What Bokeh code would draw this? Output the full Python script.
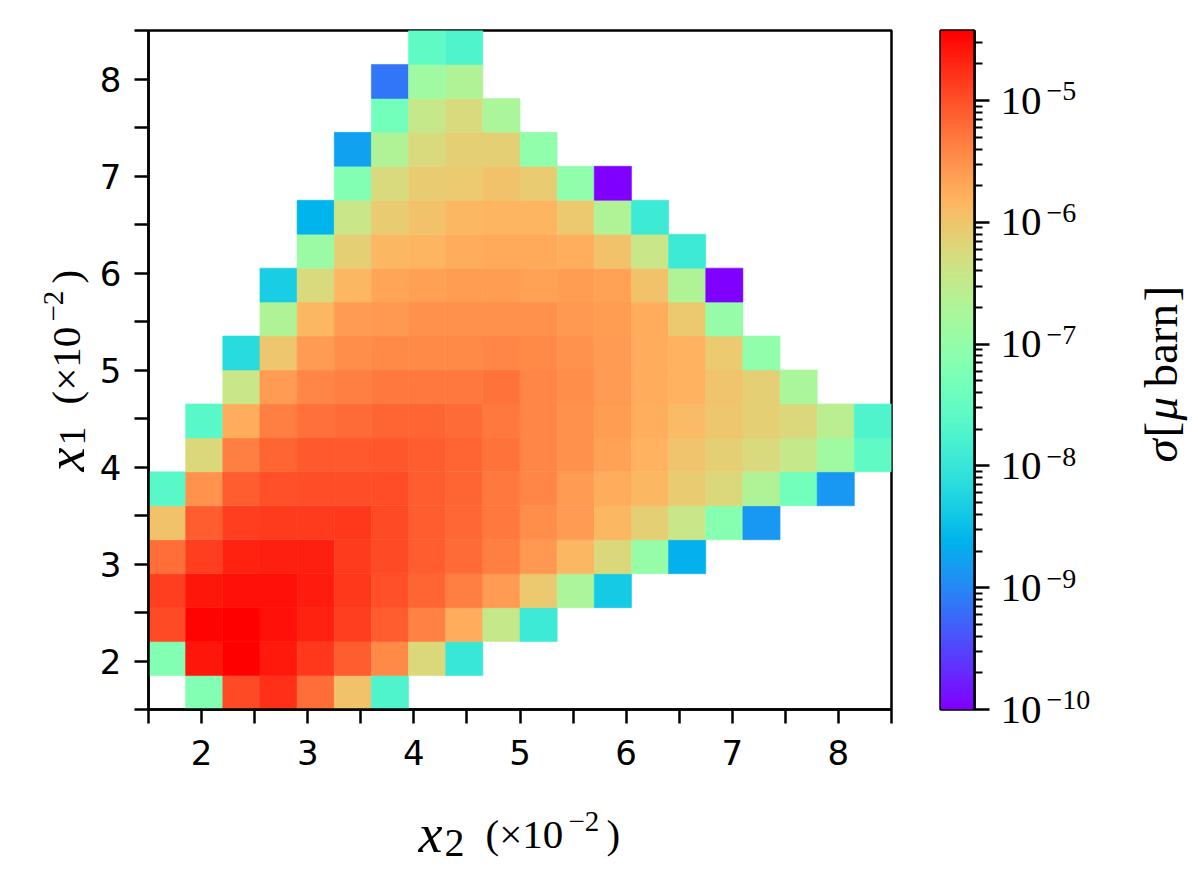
import math
import numpy as np
from bokeh.plotting import figure
from bokeh.layouts import row, column
from bokeh.models import (ColumnDataSource, LogColorMapper, LinearColorMapper, LogAxis,
                          FixedTicker, CustomJSTickFormatter, Range1d, Label)
from bokeh.embed import file_html
from bokeh.resources import INLINE

# ---------------- data ----------------
x2_edges = [1.50, 1.85, 2.20, 2.55, 2.90, 3.25, 3.60, 3.95, 4.30, 4.65, 5.00,
            5.35, 5.70, 6.05, 6.40, 6.75, 7.10, 7.45, 7.80, 8.15, 8.50]
x1_edges = [1.50, 1.85, 2.20, 2.55, 2.90, 3.25, 3.60, 3.95, 4.30, 4.65, 5.00,
            5.35, 5.70, 6.05, 6.40, 6.75, 7.10, 7.45, 7.80, 8.15, 8.50]
x_ticks = [2, 3, 4, 5, 6, 7, 8]
x_minor_ticks = [1.5, 2.5, 3.5, 4.5, 5.5, 6.5, 7.5, 8.5]
sigma_min = 1e-10
sigma_max = 3.76e-5
cbar_ticks = [1e-10, 1e-9, 1e-8, 1e-7, 1e-6, 1e-5]

N = None
# log10(sigma / mu barn), rows from x1 = 1.5 (bottom) upward, columns x2 = 1.5 -> 8.5
log10_sigma = [
    [N, -7.19, -4.96, -4.77, -5.23, -5.95, -7.73, N, N, N, N, N, N, N, N, N, N, N, N, N],
    [-7.19, -4.59, -4.43, -4.62, -4.82, -5.09, -5.44, -6.23, -7.99, N, N, N, N, N, N, N, N, N, N, N],
    [-4.96, -4.45, -4.43, -4.54, -4.68, -4.87, -5.09, -5.38, -5.74, -6.47, -7.95, N, N, N, N, N, N, N, N, N],
    [-4.87, -4.59, -4.54, -4.54, -4.63, -4.82, -5.01, -5.15, -5.35, -5.59, -6.03, -6.73, -8.38, N, N, N, N, N, N, N],
    [-5.23, -4.87, -4.68, -4.65, -4.65, -4.84, -4.96, -5.09, -5.19, -5.35, -5.56, -5.85, -6.23, -6.97, -8.63, N, N, N, N, N],
    [-5.95, -5.09, -4.87, -4.84, -4.84, -4.82, -4.96, -5.09, -5.18, -5.30, -5.48, -5.59, -5.85, -6.11, -6.42, -7.13, -8.86, N, N, N],
    [-7.63, -5.53, -5.09, -5.01, -4.98, -4.98, -4.98, -5.09, -5.16, -5.30, -5.41, -5.59, -5.74, -5.85, -6.07, -6.23, -6.68, -7.35, -8.86, N],
    [N, -6.23, -5.34, -5.15, -5.06, -5.06, -5.04, -5.09, -5.16, -5.27, -5.41, -5.50, -5.65, -5.80, -5.99, -6.11, -6.25, -6.47, -6.86, -7.54],
    [N, -7.63, -5.74, -5.34, -5.25, -5.19, -5.16, -5.16, -5.19, -5.30, -5.41, -5.50, -5.62, -5.76, -5.90, -6.00, -6.11, -6.23, -6.58, -7.73],
    [N, N, -6.42, -5.59, -5.41, -5.34, -5.30, -5.30, -5.30, -5.27, -5.41, -5.48, -5.59, -5.74, -5.80, -5.99, -6.11, -6.75, N, N],
    [N, N, -8.16, -6.00, -5.59, -5.48, -5.44, -5.44, -5.44, -5.41, -5.44, -5.53, -5.59, -5.74, -5.80, -6.05, -7.02, N, N, N],
    [N, N, N, -6.68, -5.86, -5.59, -5.56, -5.50, -5.50, -5.50, -5.50, -5.56, -5.62, -5.74, -6.03, -6.97, N, N, N, N],
    [N, N, N, -8.33, -6.25, -5.86, -5.67, -5.64, -5.62, -5.62, -5.65, -5.62, -5.65, -5.95, -6.68, -10.0, N, N, N, N],
    [N, N, N, N, -6.91, -6.11, -5.86, -5.82, -5.74, -5.71, -5.71, -5.76, -5.95, -6.42, -7.95, N, N, N, N, N],
    [N, N, N, N, -8.59, -6.42, -6.07, -5.95, -5.85, -5.82, -5.82, -6.03, -6.68, -7.95, N, N, N, N, N, N],
    [N, N, N, N, N, -7.19, -6.25, -6.07, -6.04, -5.95, -6.07, -7.02, -10.0, N, N, N, N, N, N, N],
    [N, N, N, N, N, -8.78, -6.68, -6.25, -6.11, -6.11, -7.02, N, N, N, N, N, N, N, N, N],
    [N, N, N, N, N, N, -7.35, -6.47, -6.25, -6.75, N, N, N, N, N, N, N, N, N, N],
    [N, N, N, N, N, N, -9.14, -6.86, -6.68, N, N, N, N, N, N, N, N, N, N, N],
    [N, N, N, N, N, N, N, -7.54, -7.73, N, N, N, N, N, N, N, N, N, N, N],
]

# ---------------- colormap (matplotlib "rainbow") ----------------
def rainbow_hex(t):
    r = min(1.0, abs(2 * t - 0.5))
    g = max(0.0, math.sin(math.pi * t))
    b = max(0.0, math.cos(math.pi * t / 2))
    return "#%02x%02x%02x" % (round(r * 255), round(g * 255), round(b * 255))

palette = [rainbow_hex(k / 255) for k in range(256)]
mapper = LogColorMapper(palette=palette, low=sigma_min, high=sigma_max)

left, right, bottom, top, sigma = [], [], [], [], []
for j, rowvals in enumerate(log10_sigma):
    for i, lv in enumerate(rowvals):
        if lv is None:
            continue
        left.append(x2_edges[i]); right.append(x2_edges[i + 1])
        bottom.append(x1_edges[j]); top.append(x1_edges[j + 1])
        sigma.append(10 ** lv)
src = ColumnDataSource(dict(left=left, right=right, bottom=bottom, top=top, sigma=sigma))

SANS = "DejaVu Sans"
SERIF = "Liberation Serif"
LW = 2.5
A = math.pi / 2

# ---------------- page geometry ----------------
YL_W = 96                 # left label strip
FL = 148                  # main frame left (page px)
FW, FH = 743, 679         # frame size
TOP, BOT = 30, 74         # borders of the top row
H1 = TOP + FH + BOT       # height of top row
FB = TOP + FH             # frame bottom (page px)
P_W = FL - YL_W + FW + 10
CB_L = 940                # colour-bar frame left (page px)
CB_FW = 34
CB_R = 115
CL_L = CB_L + CB_FW + CB_R  # start of colour-bar title strip
TOTAL_W = 1190
XL_H = 88


def lbl(fig, text, sx, sy, size, style="normal", angle=0.0, font=SERIF):
    fig.add_layout(Label(x=sx, y=sy, x_units="screen", y_units="screen", text=text,
                         text_font=font, text_font_size="%dpx" % size,
                         text_font_style=style, text_color="black", angle=angle,
                         text_align="left", text_baseline="alphabetic"))


def blank(width, height, **kw):
    f = figure(width=width, height=height, x_axis_location=None, y_axis_location=None,
               output_backend="svg", toolbar_location=None, title=None, **kw)
    f.outline_line_color = None
    f.background_fill_color = "white"
    f.border_fill_color = "white"
    for g in f.grid:
        g.visible = False
    return f


# ---------------- main heatmap ----------------
p = figure(frame_width=FW, frame_height=FH,
           x_range=Range1d(1.5, 8.5), y_range=Range1d(1.5, 8.5),
           output_backend="svg", toolbar_location=None,
           min_border_left=FL - YL_W, min_border_right=10,
           min_border_top=TOP, min_border_bottom=BOT)
p.quad(left="left", right="right", bottom="bottom", top="top", source=src,
       fill_color={"field": "sigma", "transform": mapper},
       line_color={"field": "sigma", "transform": mapper}, line_width=0.6)
p.grid.visible = False
p.outline_line_color = "black"
p.outline_line_width = LW
p.outline_line_alpha = 1.0
p.background_fill_color = "white"
p.border_fill_color = "white"

for ax in (p.xaxis[0], p.yaxis[0]):
    ax.ticker = FixedTicker(ticks=x_ticks, minor_ticks=x_minor_ticks)
    ax.axis_line_width = LW
    ax.axis_line_color = "black"
    ax.major_tick_in = 0
    ax.major_tick_out = 14
    ax.minor_tick_in = 0
    ax.minor_tick_out = 14
    ax.major_tick_line_width = LW
    ax.minor_tick_line_width = LW
    ax.major_tick_line_color = "black"
    ax.minor_tick_line_color = "black"
    ax.major_label_text_font = SANS
    ax.major_label_text_font_size = "34px"
    ax.major_label_text_color = "black"
p.xaxis.major_label_standoff = 16
p.yaxis.major_label_standoff = 13

# ---------------- y-axis label strip (frame spans page y TOP..FB) ----------------
yl = blank(YL_W, H1, x_range=Range1d(0, YL_W), y_range=Range1d(0, FH), min_border=0)
# x_1 (x10^-2), rotated, reading upwards
YB0 = 65   # baseline (page x) of the rotated label
lbl(yl, "x", YB0, FB - 471, 54, style="italic", angle=A)
lbl(yl, "1", YB0 + 7, FB - 445, 38, angle=A)
lbl(yl, "(\u00d710", YB0, FB - 404, 41, angle=A)
lbl(yl, "\u22122", YB0 - 12, FB - 321, 29, angle=A)
lbl(yl, ")", YB0, FB - 283, 41, angle=A)

# ---------------- colour bar ----------------
cb = figure(frame_width=CB_FW, frame_height=FH,
            x_range=Range1d(0, 1), y_range=Range1d(sigma_min, sigma_max),
            y_axis_type="log", y_axis_location="right", x_axis_location=None,
            output_backend="svg", toolbar_location=None,
            min_border_left=CB_L - (YL_W + P_W), min_border_right=CB_R,
            min_border_top=TOP, min_border_bottom=BOT)
levels = np.arange(256, dtype=float).reshape(256, 1)
cb.image(image=[levels], x=0, y=sigma_min, dw=1, dh=sigma_max - sigma_min,
         color_mapper=LinearColorMapper(palette=palette, low=-0.5, high=255.5))
for g in cb.grid:
    g.visible = False
cb.outline_line_color = "black"
cb.outline_line_width = LW
cb.outline_line_alpha = 1.0
cb.background_fill_color = "white"
cb.border_fill_color = "white"

cminor = [m * t for t in cbar_ticks for m in range(2, 10) if m * t <= sigma_max]
cy = cb.yaxis[0]
cy.ticker = FixedTicker(ticks=cbar_ticks, minor_ticks=cminor)
cy.formatter = CustomJSTickFormatter(code="return '10';")
cy.major_label_text_font = SERIF
cy.major_label_text_font_size = "41px"
cy.major_label_text_color = "black"
cy.major_label_standoff = 11
cy.axis_line_width = LW
cy.major_tick_in = 0
cy.major_tick_out = 15
cy.minor_tick_in = 0
cy.minor_tick_out = 8
cy.major_tick_line_width = LW
cy.minor_tick_line_width = 2

# exponents of the colour-bar labels, drawn as a second (tick-less) axis, raised a little
exp_ticks = [t * 10 ** 0.075 for t in cbar_ticks]
ex_axis = LogAxis(ticker=FixedTicker(ticks=exp_ticks, minor_ticks=[]),
                  formatter=CustomJSTickFormatter(
                      code="return '\\u2212' + String(Math.abs(Math.floor(Math.log10(tick))));"),
                  axis_line_color=None, major_tick_line_color=None, minor_tick_line_color=None,
                  major_tick_in=0, major_tick_out=0, minor_tick_in=0, minor_tick_out=0,
                  major_label_standoff=2, major_label_text_font=SERIF,
                  major_label_text_font_size="28px", major_label_text_color="black")
cb.add_layout(ex_axis, "right")

# ---------------- colour-bar title strip (frame spans page y TOP..FB) ----------------
cl = blank(TOTAL_W - CL_L, H1, x_range=Range1d(0, 1), y_range=Range1d(0, FH), min_border=0)
CX = 1156 - CL_L
lbl(cl, "\u03c3", CX, FB - 462, 47, style="italic", angle=A)
lbl(cl, "[", CX, FB - 437, 47, angle=A)
lbl(cl, "\u03bc", CX, FB - 420, 47, style="italic", angle=A)
lbl(cl, "barn", CX, FB - 387, 47, angle=A)
lbl(cl, "]", CX, FB - 301, 47, angle=A)

# ---------------- x-axis label strip ----------------
xl = blank(TOTAL_W, XL_H, x_range=Range1d(0, TOTAL_W), y_range=Range1d(0, XL_H), min_border=0)
YB = H1 + XL_H   # page y of strip bottom
lbl(xl, "x", 418, YB - 833, 54, style="italic")
lbl(xl, "2", 444, YB - 842, 40)
lbl(xl, "(\u00d710", 485, YB - 833, 41)
lbl(xl, "\u22122", 568, YB - 821, 29)
lbl(xl, ")", 606, YB - 833, 41)

layout = column(row(yl, p, cb, cl), xl)
open("out.html", "w").write(file_html(layout, INLINE))
